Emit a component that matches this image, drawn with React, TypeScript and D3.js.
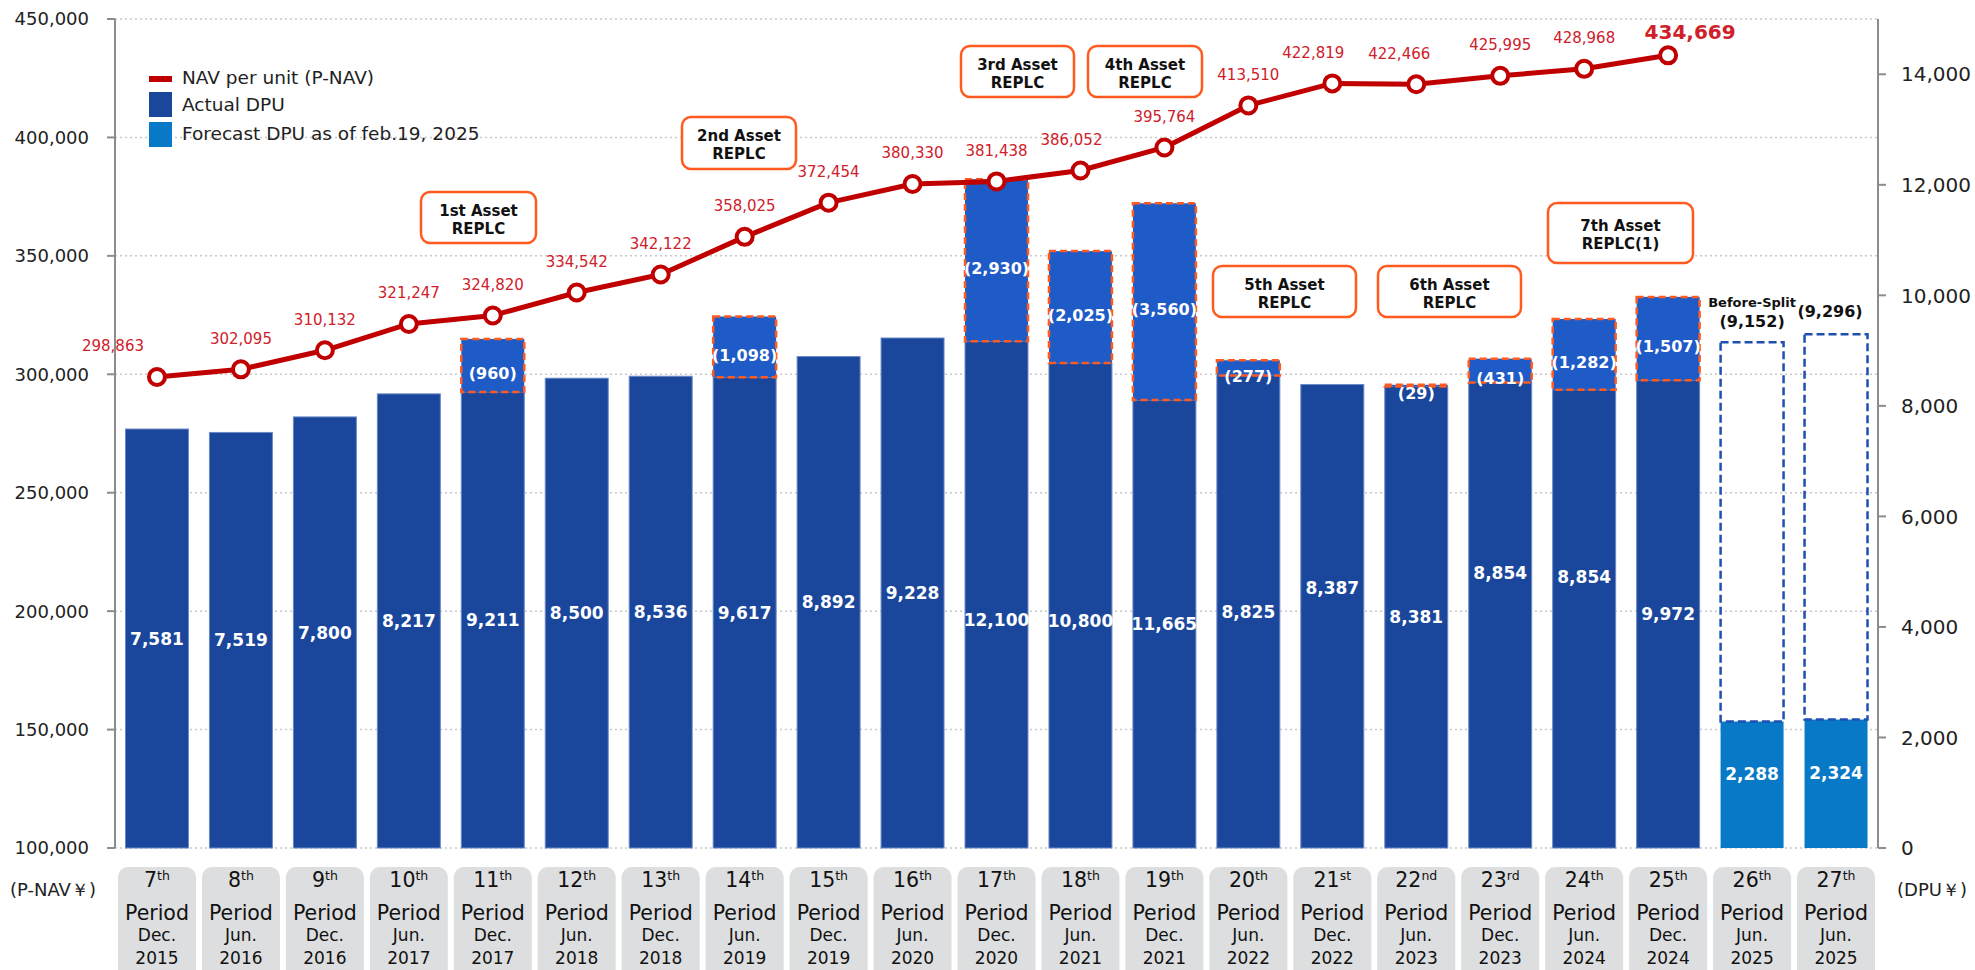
import React from 'react';
import * as d3 from 'd3';

// ---------- data ----------
const periodNums = ["7", "8", "9", "10", "11", "12", "13", "14", "15", "16", "17", "18", "19", "20", "21", "22", "23", "24", "25", "26", "27"];
const periodSuffix = ["th", "th", "th", "th", "th", "th", "th", "th", "th", "th", "th", "th", "th", "th", "st", "nd", "rd", "th", "th", "th", "th"];
const periodMonths = ["Dec.", "Jun.", "Dec.", "Jun.", "Dec.", "Jun.", "Dec.", "Jun.", "Dec.", "Jun.", "Dec.", "Jun.", "Dec.", "Jun.", "Dec.", "Jun.", "Dec.", "Jun.", "Dec.", "Jun.", "Jun."];
const periodYears = ["2015", "2016", "2016", "2017", "2017", "2018", "2018", "2019", "2019", "2020", "2020", "2021", "2021", "2022", "2022", "2023", "2023", "2024", "2024", "2025", "2025"];

// NAV per unit (7th - 25th)
const navValues = [298863, 302095, 310132, 321247, 324820, 334542, 342122, 358025, 372454, 380330, 381438, 386052, 395764, 413510, 422819, 422466, 425995, 428968, 434669];

// Actual DPU total (7th - 25th), gain-on-sale portion, and printed labels
const dpuTotals = [7581, 7519, 7800, 8217, 9211, 8500, 8536, 9617, 8892, 9228, 12100, 10800, 11665, 8825, 8387, 8381, 8854, 9572, 9972];
const dpuGains = [0, 0, 0, 0, 960, 0, 0, 1098, 0, 0, 2930, 2025, 3560, 277, 0, 29, 431, 1282, 1507];
const dpuLabels = ["7,581", "7,519", "7,800", "8,217", "9,211", "8,500", "8,536", "9,617", "8,892", "9,228", "12,100", "10,800", "11,665", "8,825", "8,387", "8,381", "8,854", "8,854", "9,972"];

// Forecast DPU (26th, 27th) and before-split equivalents
const forecastValues = [2288, 2324];
const forecastBeforeSplit = [9152, 9296];

const leftTicks = [100000, 150000, 200000, 250000, 300000, 350000, 400000, 450000];
const rightTicks = [0, 2000, 4000, 6000, 8000, 10000, 12000, 14000];

const legendItems = ["NAV per unit (P-NAV)", "Actual DPU", "Forecast DPU as of feb.19, 2025"];

const annotationTexts = [
  ["1st Asset", "REPLC"],
  ["2nd Asset", "REPLC"],
  ["3rd Asset", "REPLC"],
  ["4th Asset", "REPLC"],
  ["5th Asset", "REPLC"],
  ["6th Asset", "REPLC"],
  ["7th Asset", "REPLC(1)"],
];

// ---------- style ----------
const FONT = "Verdana, 'DejaVu Sans', sans-serif";
const C_DARK = "#1A479C";
const C_GAIN = "#1F5BC7";
const C_FC = "#0779C6";
const C_ORANGE = "#FF5A1F";
const C_RED = "#C00000";
const C_REDTXT = "#D0202A";
const C_AXIS = "#8C8C8C";
const C_GRID = "#C8C8C8";
const C_CAT = "#DDDEDF";

export default function App() {
  const W = 1975, H = 970;
  const left = 115, right = 1878, top = 19, bottom = 848;
  const cats = periodNums.map((n, i) => n + periodSuffix[i]);

  const x = d3.scaleBand<string>().domain(cats).range([left, right]).paddingInner(0.25).paddingOuter(0.125);
  const bw = x.bandwidth();
  const cx = (i: number) => (x(cats[i]) as number) + bw / 2;
  const yL = d3.scaleLinear().domain([100000, 450000]).range([bottom, top]);
  const yR = d3.scaleLinear().domain([0, 15000]).range([bottom, top]);
  const fmt = d3.format(",");

  const line = d3.line<number>().x((_, i) => cx(i)).y(d => yL(d));

  // layout nudges for labels (pixels)
  const dpuLabelDy: Record<number, number> = { 10: 25, 11: 15, 14: -28, 16: -42, 17: -42 };
  const navLabelDx: Record<number, number> = { 0: -44, 11: -9, 14: -19, 15: -17 };

  // annotation boxes (pixels)
  const annBoxes = [
    { x: 421, y: 192, w: 115, h: 51 },
    { x: 682, y: 117, w: 114, h: 52 },
    { x: 961, y: 46, w: 113, h: 51 },
    { x: 1088, y: 46, w: 114, h: 51 },
    { x: 1213, y: 266, w: 143, h: 51 },
    { x: 1378, y: 266, w: 143, h: 51 },
    { x: 1548, y: 203, w: 145, h: 60 },
  ];

  const nActual = dpuTotals.length;
  const lastNav = navValues.length - 1;

  return (
    <svg width={W} height={H} style={{ position: 'absolute', left: 0, top: 0, background: '#fff' }} fontFamily={FONT}>
      {/* gridlines */}
      {leftTicks.map(t => (
        <line key={'g' + t} x1={left} x2={right} y1={yL(t)} y2={yL(t)} stroke={C_GRID} strokeWidth={1.5} strokeDasharray="2 3" />
      ))}

      {/* actual bars */}
      {dpuTotals.map((v, i) => {
        const dark = v - dpuGains[i];
        const x0 = x(cats[i]) as number;
        return (
          <g key={'b' + i}>
            <rect x={x0} y={yR(dark)} width={bw} height={yR(0) - yR(dark)} fill={C_DARK} stroke="#6A88C6" strokeWidth={1} />
            {dpuGains[i] > 0 && (
              <rect x={x0} y={yR(v)} width={bw} height={yR(dark) - yR(v)} fill={C_GAIN} stroke={C_ORANGE} strokeWidth={2.5} strokeDasharray="7 4" />
            )}
          </g>
        );
      })}

      {/* forecast bars */}
      {forecastValues.map((v, j) => {
        const i = nActual + j;
        const x0 = x(cats[i]) as number;
        return (
          <g key={'f' + j}>
            <rect x={x0} y={yR(v)} width={bw} height={yR(0) - yR(v)} fill={C_FC} />
            <rect x={x0} y={yR(forecastBeforeSplit[j])} width={bw} height={yR(v) - yR(forecastBeforeSplit[j])} fill="none" stroke="#1F4FB0" strokeWidth={2.5} strokeDasharray="8 4" />
          </g>
        );
      })}

      {/* axes */}
      <line x1={left} x2={left} y1={top} y2={bottom} stroke={C_AXIS} strokeWidth={2} />
      <line x1={right} x2={right} y1={top} y2={bottom} stroke={C_AXIS} strokeWidth={2} />
      {leftTicks.map(t => (
        <g key={'lt' + t}>
          <line x1={left - 8} x2={left} y1={yL(t)} y2={yL(t)} stroke={C_AXIS} strokeWidth={2} />
          <text x={89} y={yL(t)} dy="0.36em" textAnchor="end" fontSize={18} fill="#222">{fmt(t)}</text>
        </g>
      ))}
      {rightTicks.map(t => (
        <g key={'rt' + t}>
          <line x1={right} x2={right + 8} y1={yR(t)} y2={yR(t)} stroke={C_AXIS} strokeWidth={2} />
          <text x={1901} y={yR(t)} dy="0.36em" textAnchor="start" fontSize={20} fill="#222">{fmt(t)}</text>
        </g>
      ))}
      <text x={10} y={896} fontSize={18} fill="#222">(P-NAV￥)</text>
      <text x={1897} y={896} fontSize={18} fill="#222">(DPU￥)</text>

      {/* bar value labels */}
      {dpuTotals.map((v, i) => {
        const dark = v - dpuGains[i];
        const yc = (yR(dark) + yR(0)) / 2 + (dpuLabelDy[i] || 0);
        return (
          <text key={'bl' + i} x={cx(i)} y={yc} dy="0.36em" textAnchor="middle" fontSize={17} fontWeight="bold" fill="#fff">{dpuLabels[i]}</text>
        );
      })}
      {dpuGains.map((g, i) => {
        if (g <= 0) return null;
        const v = dpuTotals[i];
        const yc = (yR(v) + yR(v - g)) / 2 + 8;
        return (
          <text key={'gl' + i} x={cx(i)} y={yc} dy="0.36em" textAnchor="middle" fontSize={16} fontWeight="bold" fill="#fff">({fmt(g)})</text>
        );
      })}
      {forecastValues.map((v, j) => {
        const i = nActual + j;
        return (
          <text key={'fl' + j} x={cx(i)} y={(yR(v) + yR(0)) / 2 - 11} dy="0.36em" textAnchor="middle" fontSize={17} fontWeight="bold" fill="#fff">{fmt(v)}</text>
        );
      })}
      <text x={cx(nActual)} y={302} dy="0.36em" textAnchor="middle" fontSize={13} fontWeight="bold" fill="#111">Before-Split</text>
      <text x={cx(nActual)} y={321} dy="0.36em" textAnchor="middle" fontSize={16} fontWeight="bold" fill="#111">({fmt(forecastBeforeSplit[0])})</text>
      <text x={cx(nActual + 1) - 6} y={311} dy="0.36em" textAnchor="middle" fontSize={16} fontWeight="bold" fill="#111">({fmt(forecastBeforeSplit[1])})</text>

      {/* NAV line */}
      <path d={line(navValues) || ''} fill="none" stroke={C_RED} strokeWidth={5} strokeLinejoin="round" />
      {navValues.map((v, i) => (
        <circle key={'p' + i} cx={cx(i)} cy={yL(v)} r={8} fill="#fff" stroke={C_RED} strokeWidth={4} />
      ))}
      {navValues.map((v, i) => (
        i === lastNav ? (
          <text key={'nl' + i} x={cx(i) + 22} y={yL(v) - 24} dy="0.36em" textAnchor="middle" fontSize={20} fontWeight="bold" fill={C_REDTXT}>{fmt(v)}</text>
        ) : (
          <text key={'nl' + i} x={cx(i) + (navLabelDx[i] || 0)} y={yL(v) - 31} dy="0.36em" textAnchor="middle" fontSize={15} fill={C_REDTXT}>{fmt(v)}</text>
        )
      ))}

      {/* annotations */}
      {annBoxes.map((b, k) => {
        const c = b.y + b.h / 2;
        return (
          <g key={'a' + k}>
            <rect x={b.x} y={b.y} width={b.w} height={b.h} rx={9} fill="#fff" stroke={C_ORANGE} strokeWidth={2.5} />
            <text x={b.x + b.w / 2} y={c - 2} textAnchor="middle" fontSize={15} fontWeight="bold" fill="#111">{annotationTexts[k][0]}</text>
            <text x={b.x + b.w / 2} y={c + 16} textAnchor="middle" fontSize={15} fontWeight="bold" fill="#111">{annotationTexts[k][1]}</text>
          </g>
        );
      })}

      {/* legend */}
      <rect x={149} y={76} width={23} height={6} fill={C_RED} />
      <rect x={149} y={92} width={23} height={25} fill={C_DARK} />
      <rect x={149} y={122} width={23} height={25} fill={C_FC} />
      <text x={182} y={84} fontSize={18.5} fill="#222">{legendItems[0]}</text>
      <text x={182} y={111} fontSize={18.5} fill="#222">{legendItems[1]}</text>
      <text x={182} y={140} fontSize={18.5} fill="#222">{legendItems[2]}</text>

      {/* category labels */}
      {cats.map((c, i) => {
        const xc = cx(i);
        return (
          <g key={'c' + i}>
            <rect x={xc - 39} y={867} width={78} height={120} rx={10} fill={C_CAT} />
            <text x={xc} y={887} textAnchor="middle" fontSize={20.5} fill="#111">
              {periodNums[i]}<tspan fontSize={12.5} dy={-7}>{periodSuffix[i]}</tspan>
            </text>
            <text x={xc} y={920} textAnchor="middle" fontSize={20.5} fill="#111">Period</text>
            <text x={xc} y={941} textAnchor="middle" fontSize={17} fill="#111">{periodMonths[i]}</text>
            <text x={xc} y={964} textAnchor="middle" fontSize={17} fill="#111">{periodYears[i]}</text>
          </g>
        );
      })}
    </svg>
  );
}
